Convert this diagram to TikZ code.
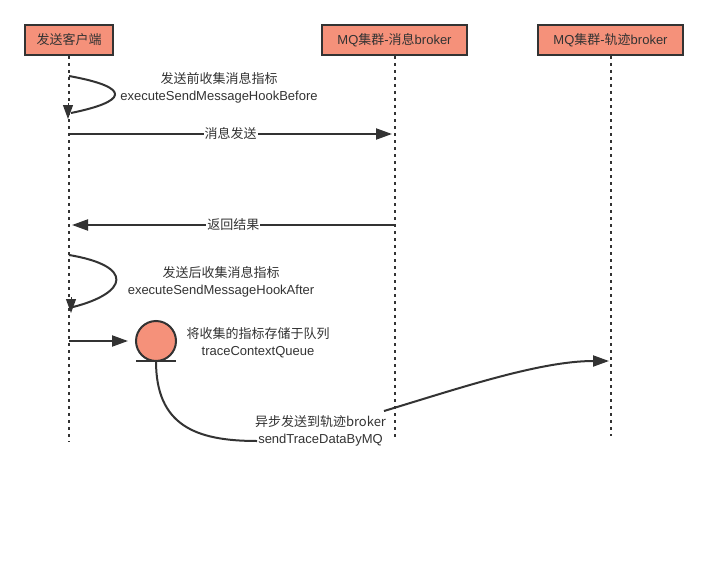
\documentclass[tikz,border=0pt]{standalone}
\usepackage{fontspec}
\setmainfont{Liberation Sans}
\newfontfamily\zhfont{Noto Sans CJK SC}
\newcommand\zh[1]{{\zhfont #1}}
\usetikzlibrary{arrows.meta}
\definecolor{salmon}{HTML}{F5917A}
\definecolor{ink}{HTML}{333333}
\begin{document}
\begin{tikzpicture}[x=1pt,y=-1pt,
  font=\fontsize{13}{17}\selectfont, text=ink,
  actor/.style={draw=ink, line width=2pt, fill=salmon, minimum height=30pt, inner sep=0pt},
  life/.style={draw=ink, line width=2pt, dash pattern=on 3pt off 4pt},
  msg/.style={draw=ink, line width=2pt, -{Triangle[length=16pt,width=11pt]}},
  loopline/.style={draw=ink, line width=2pt},
  looptip/.style={draw=ink, line width=1pt, -{Triangle[length=14pt,width=10pt]}},
  lbl/.style={fill=white, inner sep=1pt},
  note/.style={align=center, inner sep=0pt}]
\useasboundingbox[fill=white] (0,0) rectangle (708,567);

% actors
\node[actor, minimum width=88pt] (c) at (69,40) {\zh{发送客户端}};
\node[actor, minimum width=145pt] (m) at (394.5,40) {MQ\zh{集群}-\zh{消息}broker};
\node[actor, minimum width=145pt] (t) at (610.5,40) {MQ\zh{集群}-\zh{轨迹}broker};

% lifelines
\coordinate (ce) at (69,442);
\coordinate (me) at (394.5,437);
\coordinate (te) at (610.5,436);
\draw[life] (c.south) -- (ce);
\draw[life] (m.south) -- (me);
\draw[life] (t.south) -- (te);

% self loop 1
\coordinate (l1s) at (69,76);
\coordinate (l1m) at (71,113);
\coordinate (l1a) at (68,103);
\coordinate (l1e) at (68,119);
\draw[loopline] (l1s) .. controls (135,88) and (125,102) .. (l1m);
\draw[looptip] (l1a) -- (l1e);
\node[note] (n1) at (219,88) {\zh{发送前收集消息指标}\\executeSendMessageHookBefore};

% send message
\coordinate (s1) at (69,134);
\coordinate (s2) at (392,134);
\draw[msg] (s1) -- node[lbl] (ls) {\zh{消息发送}} (s2);

% return
\coordinate (r1) at (394.5,225);
\coordinate (r2) at (72,225);
\draw[msg] (r1) -- node[lbl] (lr) {\zh{返回结果}} (r2);

% self loop 2
\coordinate (l2s) at (69,255);
\coordinate (l2m) at (73,307);
\coordinate (l2a) at (71,297);
\coordinate (l2e) at (71,313);
\draw[loopline] (l2s) .. controls (135,266) and (128,293) .. (l2m);
\draw[looptip] (l2a) -- (l2e);
\node[note] (n2) at (221,282) {\zh{发送后收集消息指标}\\executeSendMessageHookAfter};

% queue
\node[circle, draw=ink, line width=2pt, fill=salmon, minimum size=40pt, inner sep=0pt] (q) at (156,341) {};
\coordinate (qb1) at (136,361);
\coordinate (qb2) at (176,361);
\coordinate (qb) at (156,361);
\draw[draw=ink, line width=2pt] (qb1) -- (qb2);
\coordinate (p1) at (69,341);
\draw[msg, shorten >=7pt] (p1) -- (q.west);
\node[note] (n3) at (258,343) {\zh{将收集的指标存储于队列}\\traceContextQueue};

% async send
\node[note, fill=white] (n4) at (320.5,431) {\zh{异步发送到轨迹broker}\\sendTraceDataByMQ};
\coordinate (a1) at (257,441);
\coordinate (a2) at (384,411);
\coordinate (a3) at (609,361);
\draw[draw=ink, line width=2pt] (qb) .. controls (156,425) and (195,441) .. (a1);
\draw[msg] (a2) .. controls (460,388) and (540,361) .. (a3);
\end{tikzpicture}
\end{document}
